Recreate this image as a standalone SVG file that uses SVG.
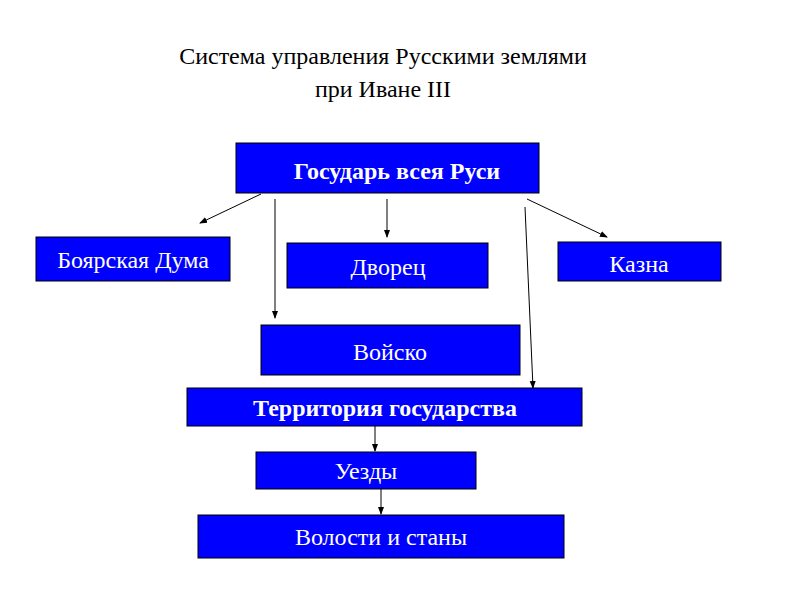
<svg xmlns="http://www.w3.org/2000/svg" width="800" height="600" viewBox="0 0 800 600">
<defs><marker id="a" markerWidth="8" markerHeight="8" refX="7" refY="4" orient="auto" markerUnits="userSpaceOnUse"><path d="M0,1 L8,4 L0,7 z" fill="#000"/></marker></defs>
<style>
rect{fill:#0000FF;stroke:#000;stroke-width:1}
text{font-family:"Liberation Serif",serif;font-size:24px;text-anchor:middle}
.w{fill:#fff}
.b{font-weight:bold}
line{stroke:#000;stroke-width:1;marker-end:url(#a)}
</style>
<rect width="800" height="600" fill="#fff" stroke="none" style="fill:#fff;stroke:none"/>
<text x="383" y="64">Система управления Русскими землями</text>
<text x="383" y="97">при Иване III</text>
<g id="connectors">
<line x1="261" y1="194" x2="200" y2="223"/>
<line x1="387" y1="199" x2="387" y2="237"/>
<line x1="527" y1="199" x2="607" y2="237"/>
<line x1="275" y1="199" x2="275" y2="318"/>
<line x1="525" y1="207" x2="533" y2="388"/>
<line x1="375" y1="426" x2="375" y2="451"/>
<line x1="381" y1="489" x2="381" y2="514"/>
</g>
<g id="gosudar"><rect x="236" y="143" width="303" height="50"/><text class="w b" x="397" y="179">Государь всея Руси</text></g>
<g id="duma"><rect x="36" y="237" width="194" height="44"/><text class="w" x="133" y="268">Боярская Дума</text></g>
<g id="dvorets"><rect x="287" y="243" width="201" height="45"/><text class="w" x="388" y="275">Дворец</text></g>
<g id="kazna"><rect x="558" y="242" width="163" height="39"/><text class="w" x="639" y="272">Казна</text></g>
<g id="voysko"><rect x="261" y="325" width="259" height="50"/><text class="w" x="390" y="360">Войско</text></g>
<g id="territoriya"><rect x="187" y="388" width="395" height="38"/><text class="w b" x="385" y="416">Территория государства</text></g>
<g id="uezdy"><rect x="256" y="452" width="220" height="37"/><text class="w" x="366" y="479">Уезды</text></g>
<g id="volosti"><rect x="198" y="515" width="366" height="43"/><text class="w" x="381" y="545">Волости и станы</text></g>
</svg>
